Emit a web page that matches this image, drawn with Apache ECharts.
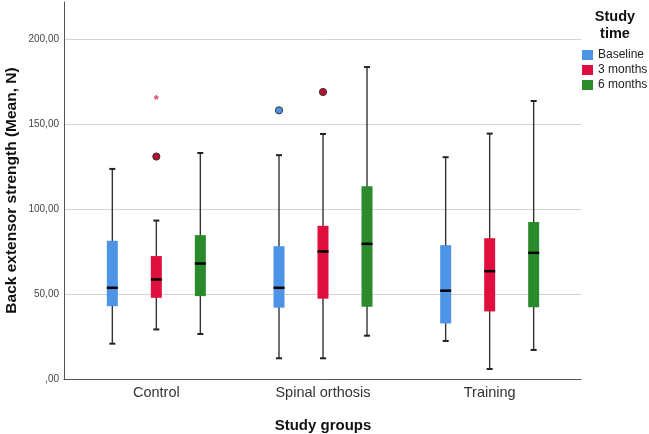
<!DOCTYPE html>
<html>
<head>
<meta charset="utf-8">
<script src="https://cdn.jsdelivr.net/npm/echarts@6/dist/echarts.min.js"></script>
<style>html,body{margin:0;padding:0;background:#fff}#c{width:649px;height:434px}</style>
</head>
<body>
<div id="c"></div>
<script>
const categories = ['Control', 'Spinal orthosis', 'Training'];
const timeNames = ['Baseline', '3 months', '6 months'];
const yTicks = [0, 50, 100, 150, 200];
// [categoryIndex, min whisker, Q1, median, Q3, max whisker]
const baseline = [
  [0, 20.8, 42.9, 53.7, 81.4, 123.7],
  [1, 12.2, 42.0, 53.7, 78.2, 131.8],
  [2, 22.4, 32.7, 52.0, 78.8, 130.6]
];
const months3 = [
  [0, 29.2, 47.8, 58.6, 72.4, 93.3],
  [1, 12.2, 47.3, 75.1, 90.2, 144.3],
  [2, 5.9, 39.8, 63.5, 82.9, 144.5]
];
const months6 = [
  [0, 26.5, 48.8, 68.0, 84.7, 133.1],
  [1, 25.5, 42.5, 79.6, 113.5, 183.7],
  [2, 17.1, 42.2, 74.3, 92.4, 163.7]
];
// [categoryIndex, value, kind] kind: 0 = circle, 1 = extreme (star)
const outBaseline = [[1, 158.2, 0]];
const out3 = [[0, 131.0, 0], [0, 165.7, 1], [1, 169.0, 0]];
const out6 = [];
const colors = ['#4d93e6', '#e0103e', '#2b8a2b'];

const FONT = 'Liberation Sans, Arial, sans-serif';
const boxSeries = [baseline, months3, months6];
const outSeries = [outBaseline, out3, out6];

function boxRender(k) {
  return function (params, api) {
    const cat = api.value(0);
    const band = api.size([1, 0])[0];
    const xc = api.coord([cat, 0])[0] + (k - 1) * 0.264 * band;
    const yMin = api.coord([cat, api.value(1)])[1];
    const yQ1 = api.coord([cat, api.value(2)])[1];
    const yMed = api.coord([cat, api.value(3)])[1];
    const yQ3 = api.coord([cat, api.value(4)])[1];
    const yMax = api.coord([cat, api.value(5)])[1];
    const bw = 11, cw = 6;
    const ws = { stroke: '#333', lineWidth: 1.4 };
    return {
      type: 'group',
      children: [
        { type: 'line', shape: { x1: xc, y1: yMax, x2: xc, y2: yMin }, style: ws },
        { type: 'line', shape: { x1: xc - cw / 2, y1: yMax, x2: xc + cw / 2, y2: yMax }, style: { stroke: '#222', lineWidth: 2 } },
        { type: 'line', shape: { x1: xc - cw / 2, y1: yMin, x2: xc + cw / 2, y2: yMin }, style: { stroke: '#222', lineWidth: 2 } },
        { type: 'rect', shape: { x: xc - bw / 2, y: yQ3, width: bw, height: yQ1 - yQ3 }, style: { fill: colors[k] } },
        { type: 'line', shape: { x1: xc - bw / 2, y1: yMed, x2: xc + bw / 2, y2: yMed }, style: { stroke: '#000', lineWidth: 2.5 } }
      ]
    };
  };
}
function outRender(k) {
  return function (params, api) {
    const cat = api.value(0);
    const band = api.size([1, 0])[0];
    const xc = api.coord([cat, 0])[0] + (k - 1) * 0.264 * band;
    const y = api.coord([cat, api.value(1)])[1];
    if (api.value(2) === 1) {
      return { type: 'text', x: xc, y: y + 3, style: { text: '*', fill: '#d8456a', font: 'bold 13px ' + FONT, align: 'center', verticalAlign: 'middle' } };
    }
    const fill = k === 1 ? '#b8102e' : colors[k];
    return { type: 'circle', shape: { cx: xc, cy: y, r: 3.6 }, style: { fill: fill, stroke: '#333', lineWidth: 1 } };
  };
}

const series = [
  {
    type: 'line', xAxisIndex: 0, yAxisIndex: 0, data: [], silent: true, z: 0,
    markLine: {
      silent: true, symbol: 'none', animation: false, z: 0,
      label: { show: false },
      lineStyle: { color: '#d4d4d4', width: 1, type: 'solid' },
      data: yTicks.filter(v => v > 0).map(v => ({ yAxis: v }))
    }
  }
];
boxSeries.forEach((d, k) => {
  series.push({
    type: 'custom', name: timeNames[k], xAxisIndex: 1, yAxisIndex: 1, z: 6,
    itemStyle: { color: colors[k] },
    renderItem: boxRender(k), encode: { x: 0, y: [1, 2, 3, 4, 5] }, data: d
  });
});
outSeries.forEach((d, k) => {
  series.push({
    type: 'custom', name: timeNames[k], xAxisIndex: 1, yAxisIndex: 1, z: 7,
    itemStyle: { color: colors[k] },
    renderItem: outRender(k), encode: { x: 0, y: 1 }, data: d
  });
});

const chart = echarts.init(document.getElementById('c'), null, { renderer: 'canvas' });
chart.setOption({
  animation: false,
  backgroundColor: '#fff',
  grid: [
    { left: 64, right: 68, top: 2, bottom: 55, containLabel: false, outerBoundsMode: 'none' },
    { left: 73, right: 76, top: 2, bottom: 55, containLabel: false, outerBoundsMode: 'none' }
  ],
  xAxis: [
    { type: 'value', gridIndex: 0, min: 0, max: 1, axisLine: { show: true, lineStyle: { color: '#555', width: 1 } }, axisTick: { show: false }, axisLabel: { show: false }, splitLine: { show: false } },
    {
      type: 'category', gridIndex: 1, data: categories,
      axisLine: { show: false }, axisTick: { show: false }, splitLine: { show: false },
      axisLabel: { color: '#333', fontSize: 14.5, fontFamily: FONT, margin: 6 },
      name: 'Study groups', nameLocation: 'middle', nameGap: 39, nameMoveOverlap: false,
      nameTextStyle: { color: '#111', fontSize: 15, fontWeight: 'bold', fontFamily: FONT }
    }
  ],
  yAxis: [
    {
      type: 'value', gridIndex: 0, min: 0, max: 222, interval: 50,
      axisLine: { show: true, lineStyle: { color: '#555', width: 1 } },
      axisTick: { show: false }, splitLine: { show: false },
      axisLabel: {
        color: '#444', fontSize: 10, fontFamily: FONT, margin: 5,
        formatter: v => (yTicks.indexOf(v) < 0 ? '' : (v === 0 ? ',00' : v + ',00'))
      },
      name: 'Back extensor strength (Mean, N)', nameLocation: 'middle', nameGap: 44, nameMoveOverlap: false,
      nameTextStyle: { color: '#111', fontSize: 15.5, fontWeight: 'bold', fontFamily: FONT }
    },
    { type: 'value', gridIndex: 1, min: 0, max: 222, show: false }
  ],
  legend: {
    orient: 'vertical', left: 582, top: 49, icon: 'rect', padding: 0,
    itemWidth: 11, itemHeight: 10, itemGap: 3,
    data: timeNames,
    textStyle: { color: '#222', fontSize: 12, fontFamily: FONT, padding: [0, 0, 0, 0] }
  },
  graphic: [
    { type: 'text', x: 615, y: 8, style: { text: 'Study\ntime', align: 'center', verticalAlign: 'top', font: 'bold 14.5px ' + FONT, lineHeight: 17, fill: '#111' } }
  ],
  series: series
});
</script>
</body>
</html>
